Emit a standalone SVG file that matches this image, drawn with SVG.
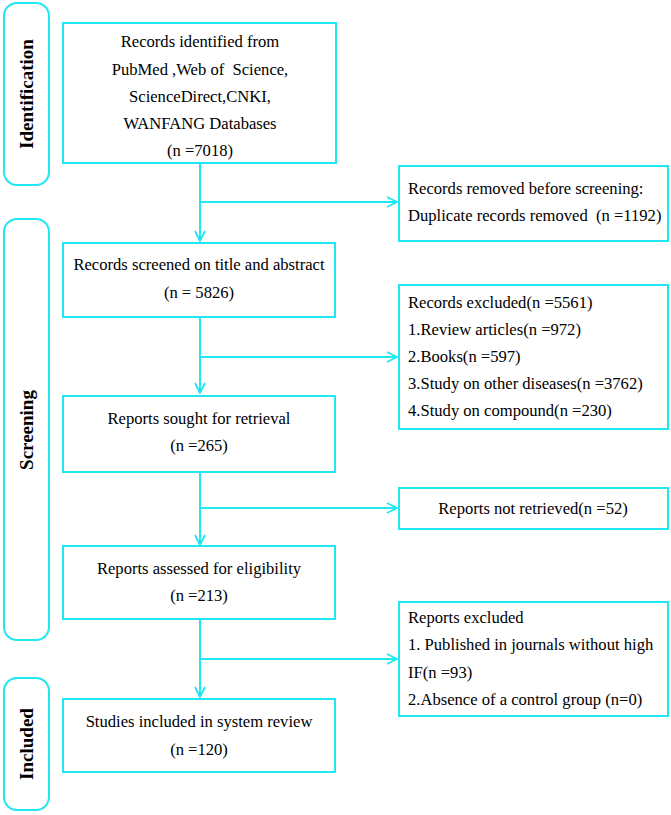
<svg xmlns="http://www.w3.org/2000/svg" width="671" height="815" viewBox="0 0 671 815">
<defs>
<style>
.box{fill:#fff;stroke:#1FE8F2;stroke-width:2}
.pill{fill:#fff;stroke:#1FE8F2;stroke-width:2}
.t{font-family:"Liberation Serif","Times New Roman",serif;font-size:16.6px;fill:#000;white-space:pre}
.c{text-anchor:middle}
.lab{font-family:"Liberation Serif","Times New Roman",serif;font-size:19px;font-weight:bold;fill:#000;text-anchor:middle}
.ln{fill:none;stroke:#1FE8F2;stroke-width:2}
</style>
<marker id="ah" viewBox="0 0 12 12" refX="11" refY="6" markerWidth="12" markerHeight="12" markerUnits="userSpaceOnUse" orient="auto">
<path d="M1,1 L11,6 L1,11" fill="none" stroke="#1FE8F2" stroke-width="1.8"/>
</marker>
</defs>
<rect width="671" height="815" fill="#fff"/>

<g id="stage-identification">
<rect class="pill" x="4" y="3" width="45" height="182" rx="13"/>
<text class="lab" transform="translate(33,94) rotate(-90)">Identification</text>
</g>
<g id="stage-screening">
<rect class="pill" x="4" y="219" width="45" height="421" rx="13"/>
<text class="lab" transform="translate(33,430) rotate(-90)">Screening</text>
</g>
<g id="stage-included">
<rect class="pill" x="4" y="678" width="45" height="132" rx="13"/>
<text class="lab" transform="translate(33,744) rotate(-90)">Included</text>
</g>

<g id="connectors">
<path class="ln" d="M200,163 V241" marker-end="url(#ah)"/>
<path class="ln" d="M200,202 H397" marker-end="url(#ah)"/>
<path class="ln" d="M200,317 V393" marker-end="url(#ah)"/>
<path class="ln" d="M200,357 H397" marker-end="url(#ah)"/>
<path class="ln" d="M200,472 V545" marker-end="url(#ah)"/>
<path class="ln" d="M200,508 H397" marker-end="url(#ah)"/>
<path class="ln" d="M200,619 V697" marker-end="url(#ah)"/>
<path class="ln" d="M200,659 H397" marker-end="url(#ah)"/>
</g>

<g id="n-identified">
<rect class="box" x="63" y="23" width="273" height="140"/>
<text class="t c" x="200" y="47">Records identified from</text>
<text class="t c" x="200" y="75">PubMed ,Web of  Science,</text>
<text class="t c" x="200" y="102">ScienceDirect,CNKI,</text>
<text class="t c" x="200" y="129">WANFANG Databases</text>
<text class="t c" x="200" y="156">(n =7018)</text>
</g>
<g id="n-removed">
<rect class="box" x="399" y="166" width="269" height="75"/>
<text class="t" x="408" y="194">Records removed before screening:</text>
<text class="t" x="408" y="221">Duplicate records removed  (n =1192)</text>
</g>
<g id="n-screened">
<rect class="box" x="63" y="243" width="272" height="74"/>
<text class="t c" x="199" y="270">Records screened on title and abstract</text>
<text class="t c" x="199" y="298">(n = 5826)</text>
</g>
<g id="n-excluded">
<rect class="box" x="399" y="285" width="269" height="144"/>
<text class="t" x="408" y="308">Records excluded(n =5561)</text>
<text class="t" x="408" y="335">1.Review articles(n =972)</text>
<text class="t" x="408" y="362">2.Books(n =597)</text>
<text class="t" x="408" y="389">3.Study on other diseases(n =3762)</text>
<text class="t" x="408" y="416">4.Study on compound(n =230)</text>
</g>
<g id="n-sought">
<rect class="box" x="63" y="396" width="272" height="76"/>
<text class="t c" x="199" y="424">Reports sought for retrieval</text>
<text class="t c" x="199" y="451">(n =265)</text>
</g>
<g id="n-notretrieved">
<rect class="box" x="399" y="488" width="269" height="41"/>
<text class="t c" x="533" y="514">Reports not retrieved(n =52)</text>
</g>
<g id="n-assessed">
<rect class="box" x="63" y="546" width="272" height="73"/>
<text class="t c" x="199" y="574">Reports assessed for eligibility</text>
<text class="t c" x="199" y="601">(n =213)</text>
</g>
<g id="n-reportsexcluded">
<rect class="box" x="399" y="602" width="269" height="114"/>
<text class="t" x="408" y="623">Reports excluded</text>
<text class="t" x="408" y="650">1. Published in journals without high</text>
<text class="t" x="408" y="678">IF(n =93)</text>
<text class="t" x="408" y="705">2.Absence of a control group (n=0)</text>
</g>
<g id="n-included">
<rect class="box" x="63" y="699" width="272" height="73"/>
<text class="t c" x="199" y="727">Studies included in system review</text>
<text class="t c" x="199" y="755">(n =120)</text>
</g>
</svg>
